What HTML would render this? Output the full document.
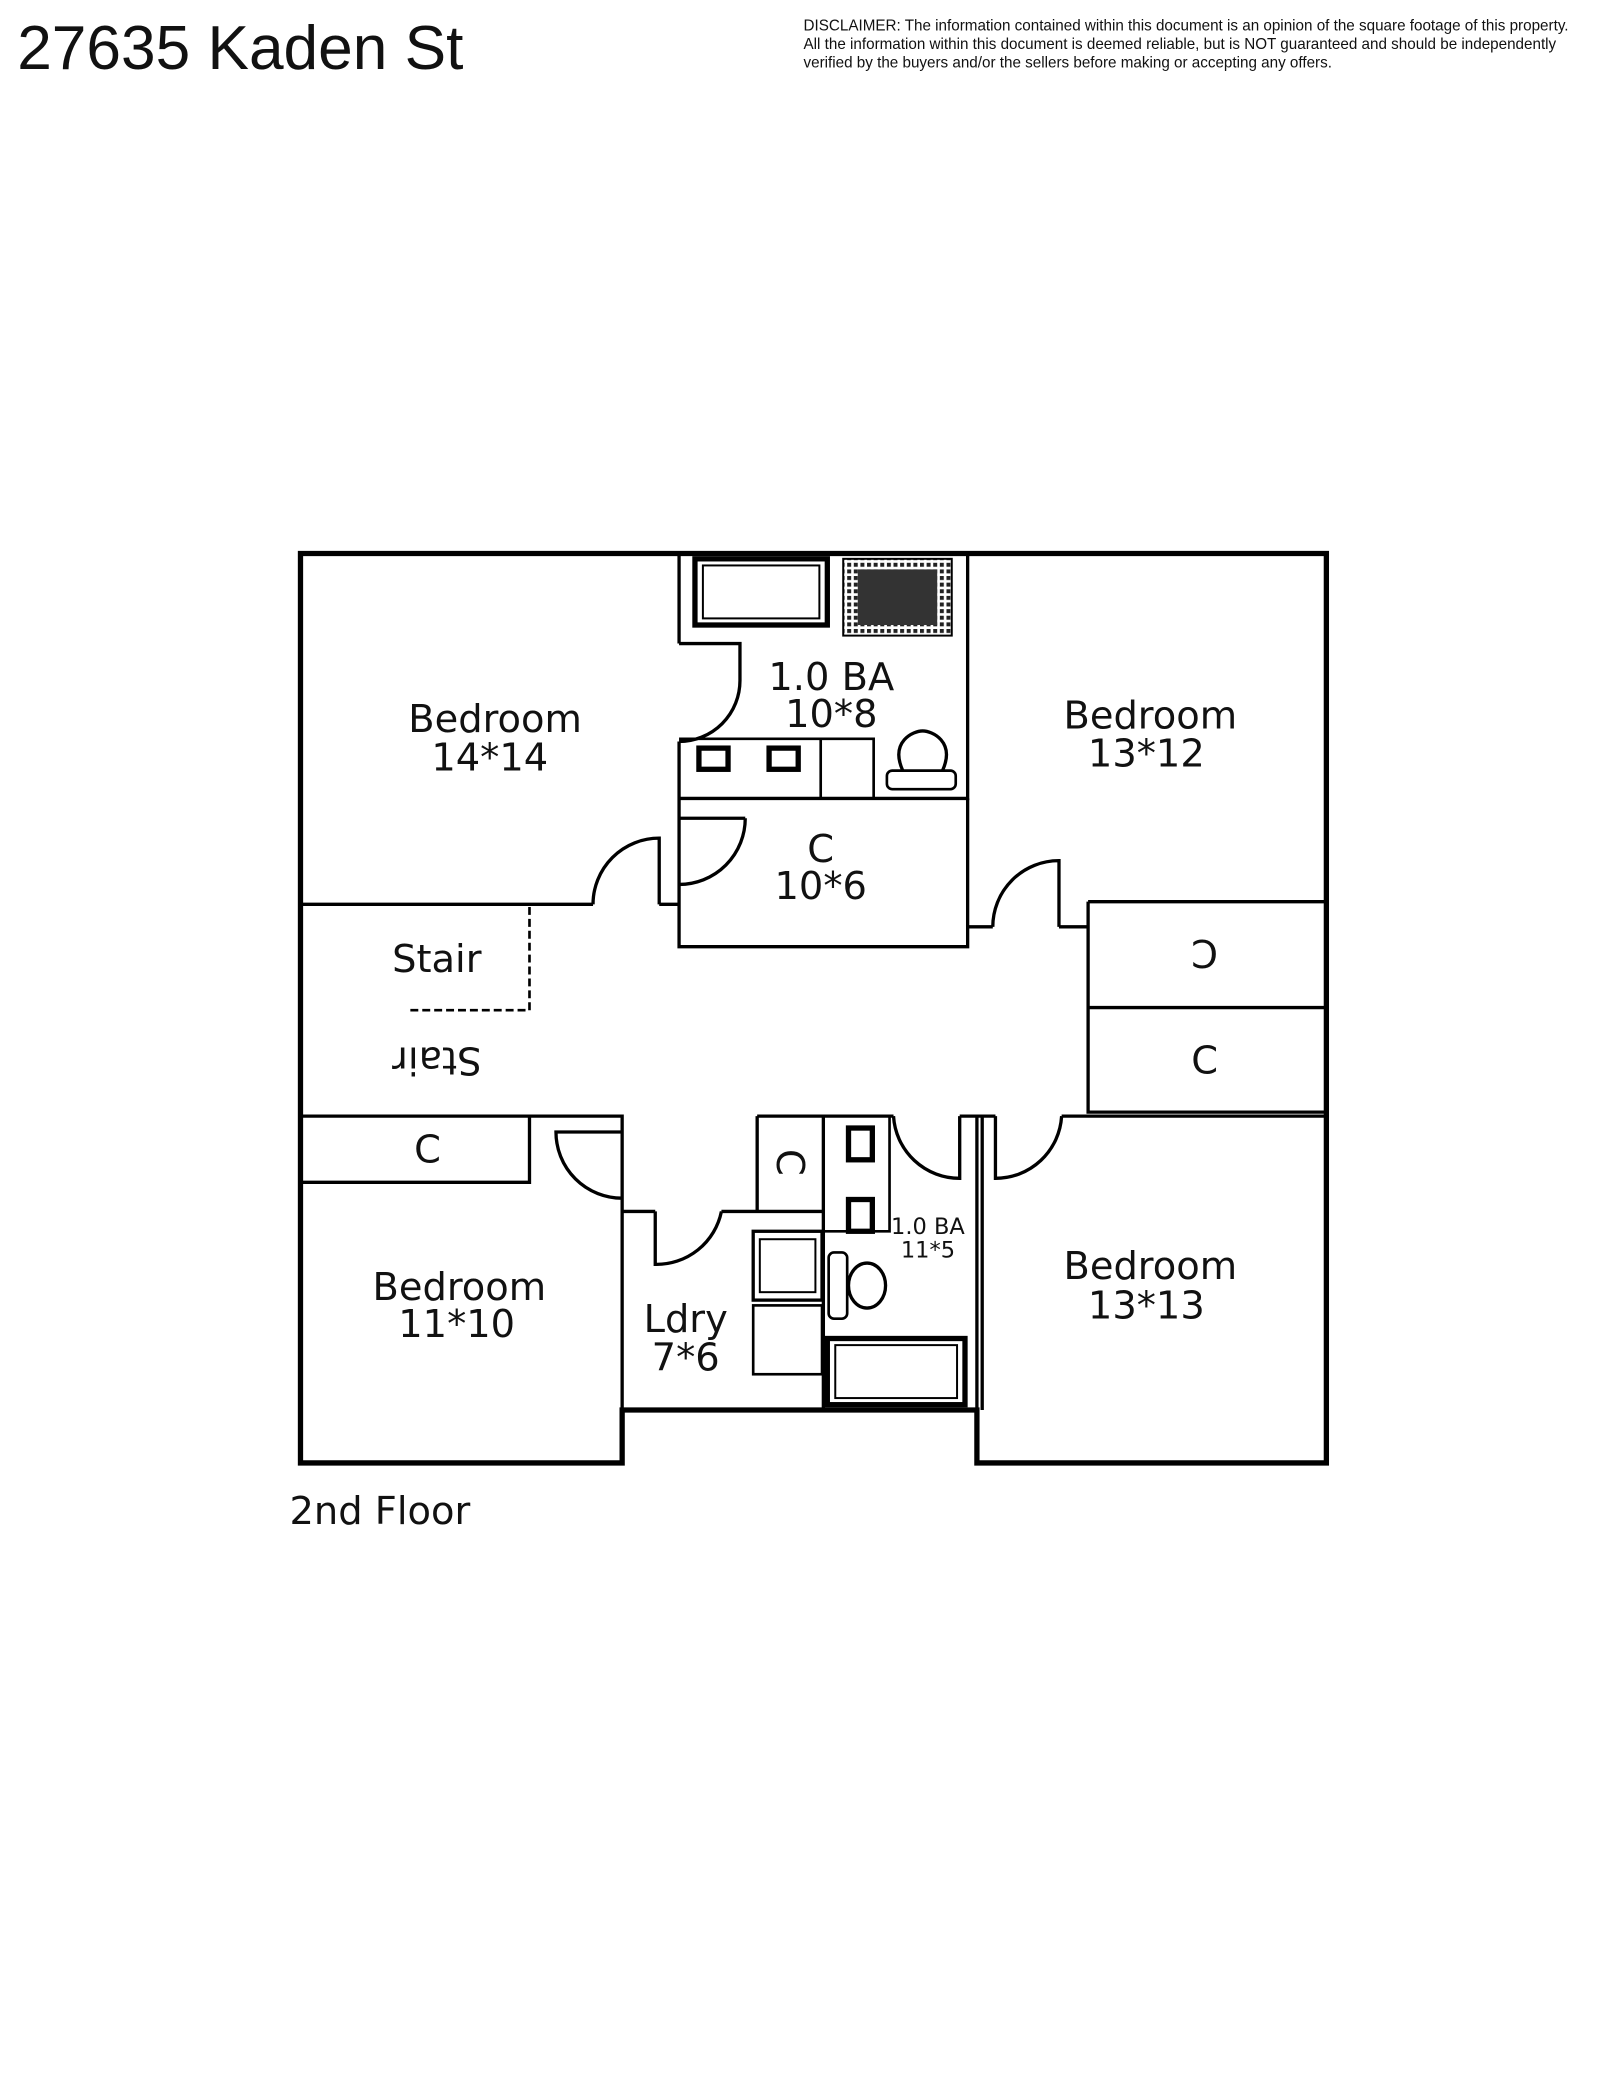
<!DOCTYPE html>
<html><head><meta charset="utf-8"><style>
html,body{margin:0;padding:0;background:#fff}
svg{display:block}
text{font-family:"DejaVu Sans","Liberation Sans",sans-serif;fill:#111}
</style></head><body>
<svg width="1607" height="2080" viewBox="0 0 1214 1571" xmlns="http://www.w3.org/2000/svg">
<defs>
<pattern id="chk" width="5" height="5" patternUnits="userSpaceOnUse"><rect width="5" height="5" fill="#fff"/><rect width="3" height="3" fill="#222"/></pattern>
</defs>
<text x="13" y="52" style="font-family:'Liberation Sans',sans-serif;font-size:47px" fill="#000">27635 Kaden St</text>
<g style="font-family:'Liberation Sans',sans-serif;font-size:11.5px" fill="#000">
<text x="607" y="23" style="font-family:'Liberation Sans',sans-serif">DISCLAIMER: The information contained within this document is an opinion of the square footage of this property.</text>
<text x="607" y="37" style="font-family:'Liberation Sans',sans-serif">All the information within this document is deemed reliable, but is NOT guaranteed and should be independently</text>
<text x="607" y="51" style="font-family:'Liberation Sans',sans-serif">verified by the buyers and/or the sellers before making or accepting any offers.</text>
</g>
<g fill="none" stroke="#000">
<path d="M227 418 H1002 V1105 H738 V1065 H470 V1105 H227 Z" stroke-width="4"/>
<g stroke-width="2.5">
<path d="M227 683 H448 M498 683 H513"/>
<path d="M513 418 V486 M513 560 V715 H731 V700 H750 M800 700 H822"/>
<path d="M731 418 V603 H513"/>
<path d="M731 603 V700"/>
<path d="M822 681 H1002 M822 761 H1002 M822 681 V840 H1002"/>
<path d="M227 843 H400 V893 H227 M400 843 H470 V1065"/>
<path d="M470 915 H495 M545 915 H622 M572 843 V915 M572 843 H675 M725 843 H752 M802 843 H1002"/>
<path d="M622 843 V1065 M738 843 V1105 M742 843 V1065"/>
<path d="M448 683 A50 50 0 0 1 498 633 V683"/>
<path d="M563 618 A50 50 0 0 1 513 668"/><path d="M513 618 H563"/>
<path d="M513 560 A46 46 0 0 0 559 514 V486 H513"/>
<path d="M750 700 A50 50 0 0 1 800 650 V700"/>
<path d="M470 855 H420 A50 50 0 0 0 470 905"/>
<path d="M495 915 V955 A50 50 0 0 0 545 915"/>
<path d="M675 843 A50 50 0 0 0 725 890 V843"/>
<path d="M752 843 V890 A50 50 0 0 0 802 843"/>
</g>
<path d="M400 685 V763 H310" stroke-width="2" stroke-dasharray="6,3"/>
<rect x="525" y="422" width="100" height="50" stroke-width="4"/>
<rect x="531" y="427" width="88" height="40" stroke-width="1.5"/>
<rect x="637" y="422" width="82" height="58" fill="url(#chk)" stroke-width="1.5"/>
<rect x="648" y="430" width="60" height="42" fill="#333" stroke="none"/>
<path d="M513 558 H660 V603 M620 558 V603" stroke-width="2"/>
<rect x="528" y="565" width="22" height="16" stroke-width="4"/>
<rect x="581" y="565" width="22" height="16" stroke-width="4"/>
<rect x="670" y="582" width="52" height="14" rx="4" stroke-width="2"/>
<path d="M682 582 C672 560 690 552 697 552 C704 552 722 560 712 582" stroke-width="2.5"/>
<path d="M622 843 H672 V930 H622" stroke-width="2"/>
<rect x="641" y="852" width="18" height="24" stroke-width="4"/>
<rect x="641" y="906" width="18" height="24" stroke-width="4"/>
<rect x="569" y="930" width="52" height="52" stroke-width="2.5"/>
<rect x="574" y="936" width="42" height="40" stroke-width="1.5"/>
<rect x="569" y="986" width="52" height="52" stroke-width="2"/>
<rect x="625" y="1011" width="104" height="50" stroke-width="4"/>
<rect x="631" y="1016" width="92" height="40" stroke-width="1.5"/>
<rect x="626" y="946" width="14" height="50" rx="4" stroke-width="2"/>
<ellipse cx="655" cy="971" rx="14" ry="17" stroke-width="2.5"/>
</g>
<g font-size="29" text-anchor="middle">
<text x="374" y="553">Bedroom</text><text x="370" y="582">14*14</text>
<text x="628" y="521">1.0 BA</text><text x="628" y="549">10*8</text>
<text x="869" y="550">Bedroom</text><text x="866" y="579">13*12</text>
<text x="620" y="651">C</text><text x="620" y="679">10*6</text>
<text x="330" y="734">Stair</text>
<text x="0" y="10" transform="translate(330,801) rotate(180)">Stair</text>
<text x="0" y="10" transform="translate(910,720) rotate(180)">C</text>
<text x="910" y="811">C</text>
<text x="323" y="878">C</text>
<text x="0" y="10" transform="translate(597,878) rotate(90)">C</text>
<text x="347" y="982">Bedroom</text><text x="345" y="1010">11*10</text>
<text x="518" y="1006">Ldry</text><text x="518" y="1035">7*6</text>
<text x="869" y="966">Bedroom</text><text x="866" y="996">13*13</text>
<text x="287" y="1151">2nd Floor</text>
</g>
<g font-size="17" text-anchor="middle">
<text x="701" y="932">1.0 BA</text><text x="701" y="950">11*5</text>
</g>
</svg>
</body></html>
